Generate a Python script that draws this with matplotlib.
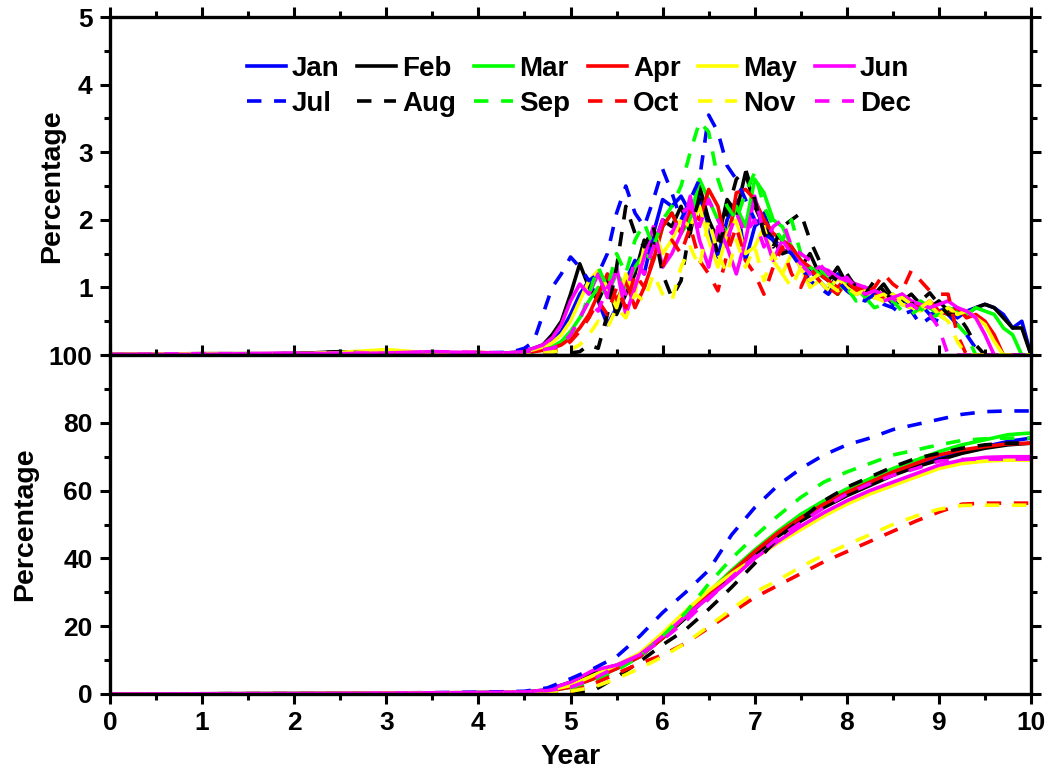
import numpy as np
import matplotlib.pyplot as plt
from matplotlib.ticker import MultipleLocator

plt.rcParams['font.family'] = ['Liberation Sans', 'DejaVu Sans']
plt.rcParams['font.weight'] = 'bold'
plt.rcParams['font.size'] = 19

months = ['Jan', 'Feb', 'Mar', 'Apr', 'May', 'Jun',
          'Jul', 'Aug', 'Sep', 'Oct', 'Nov', 'Dec']
colors = ['#0000ff', '#000000', '#00ff00', '#ff0000', '#ffff00', '#ff00ff'] * 2
styles = ['-'] * 6 + ['--'] * 6

# monthly share (%), years 0..4 coarse then 4.3..10.0 every 0.1
yr_top = np.r_[0, 1, 2, 2.5, 3, 3.5, 4, np.arange(43, 101) / 10]

jan_pct = [0.01, 0.01, 0.02, 0.02, 0.03, 0.02, 0.03,
           0.02, 0.03, 0.05, 0.08, 0.12, 0.2, 0.35, 0.6, 0.9, 1.1,
           0.8, 0.45, 0.7, 1.1, 1.4, 1.2, 1.8, 2.3, 2.2, 2.35,
           2.1, 2.4, 1.8, 1.45, 2.0, 2.3, 1.4, 1.9, 2.1, 1.7,
           1.5, 1.6, 1.3, 1.25, 1.1, 0.95, 1.2, 1.0, 0.9,
           0.95, 0.85, 0.9, 0.75, 0.8, 0.7, 0.75, 0.6, 0.65, 0.7,
           0.55, 0.65, 0.7, 0.75, 0.7, 0.6, 0.4, 0.5, 0.0]
feb_pct = [0.01, 0.02, 0.02, 0.05, 0.02, 0.03, 0.02,
           0.03, 0.04, 0.06, 0.1, 0.15, 0.3, 0.5, 0.9, 1.35, 1.0,
           0.8, 1.1, 0.6, 0.9, 1.2, 1.7, 1.6, 2.0, 1.9, 2.2,
           1.8, 2.5, 2.0, 1.7, 2.3, 2.1, 2.7, 2.2, 1.9, 1.7,
           1.5, 1.55, 1.3, 1.5, 1.2, 1.1, 1.3, 1.05, 0.95,
           1.0, 0.9, 1.05, 0.85, 0.8, 0.9, 0.75, 0.7, 0.8, 0.65,
           0.7, 0.6, 0.7, 0.75, 0.7, 0.55, 0.4, 0.4, 0.0]
mar_pct = [0.01, 0.01, 0.02, 0.03, 0.04, 0.02, 0.02,
           0.02, 0.02, 0.03, 0.05, 0.08, 0.12, 0.2, 0.35, 0.55, 0.8,
           1.0, 0.9, 1.2, 1.0, 1.3, 1.5, 1.4, 1.9, 2.1, 1.8,
           2.0, 2.6, 2.3, 2.0, 1.8, 2.2, 1.9, 2.6, 2.4, 2.0,
           1.9, 1.6, 1.4, 1.2, 1.3, 1.1, 0.9, 1.1, 1.0,
           0.85, 0.95, 0.8, 0.9, 0.75, 0.7, 0.8, 0.7, 0.6, 0.7,
           0.65, 0.6, 0.7, 0.65, 0.6, 0.4, 0.3, 0.0, 0.0]
apr_pct = [0.01, 0.01, 0.02, 0.02, 0.03, 0.03, 0.04,
           0.02, 0.03, 0.04, 0.05, 0.07, 0.1, 0.15, 0.25, 0.4, 0.6,
           0.9, 1.2, 0.8, 1.1, 0.7, 1.0, 1.4, 1.9, 2.1, 1.8,
           2.15, 2.0, 2.45, 2.2, 1.6, 2.4, 2.45, 2.3, 2.0, 1.8,
           1.7, 1.6, 1.4, 1.3, 1.2, 1.1, 1.0, 1.15, 1.0,
           0.95, 0.9, 0.85, 0.8, 0.9, 0.75, 0.7, 0.8, 0.65, 0.6,
           0.7, 0.55, 0.6, 0.5, 0.3, 0.0, 0.0, 0.0, 0.0]
may_pct = [0.01, 0.02, 0.02, 0.04, 0.08, 0.03, 0.02,
           0.02, 0.03, 0.05, 0.08, 0.12, 0.18, 0.3, 0.5, 0.8, 1.1,
           1.25, 1.0, 0.7, 1.2, 0.9, 1.6, 1.85, 1.5, 1.7, 2.0,
           1.9, 2.2, 1.7, 1.3, 1.8, 2.0, 1.5, 1.6, 1.9, 1.4,
           1.2, 1.5, 1.3, 1.0, 1.1, 0.95, 1.15, 1.0, 0.9,
           0.95, 0.85, 0.8, 0.9, 0.75, 0.7, 0.65, 0.75, 0.6, 0.7,
           0.6, 0.65, 0.55, 0.45, 0.2, 0.0, 0.0, 0.0, 0.0]
jun_pct = [0.01, 0.01, 0.03, 0.02, 0.03, 0.05, 0.03,
           0.03, 0.04, 0.06, 0.1, 0.15, 0.25, 0.45, 0.8, 1.05, 0.9,
           1.2, 0.85, 1.3, 0.6, 1.0, 1.45, 1.9, 1.3, 1.5, 1.8,
           2.35, 1.7, 1.3, 1.9, 1.6, 1.2, 1.7, 2.35, 1.8, 1.4,
           1.7, 1.5, 1.35, 1.2, 1.3, 1.25, 1.15, 1.1, 1.05,
           1.0, 0.95, 0.9, 0.85, 0.9, 0.8, 0.75, 0.7, 0.75, 0.8,
           0.7, 0.65, 0.55, 0.3, 0.0, 0.0, 0.0, 0.0, 0.0]
jul_pct = [0.01, 0.01, 0.02, 0.02, 0.03, 0.02, 0.03,
           0.04, 0.06, 0.1, 0.2, 0.6, 1.0, 1.2, 1.45, 1.3, 1.1,
           1.2, 1.5, 2.1, 2.5, 2.1, 1.9, 2.3, 2.75, 2.4, 2.0,
           2.3, 2.6, 3.55, 3.3, 2.8, 2.6, 2.3, 2.0, 1.8, 1.7,
           1.6, 1.5, 1.3, 1.1, 1.0, 0.9, 1.1, 0.95, 0.85,
           0.8, 0.9, 0.75, 0.7, 0.6, 0.65, 0.45, 0.55, 0.5, 0.6,
           0.45, 0.3, 0.1, 0.0, 0.0, 0.0, 0.0, 0.0, 0.0]
aug_pct = [0.0, 0.01, 0.02, 0.05, 0.02, 0.02, 0.02,
           0.0, 0.02, 0.03, 0.03, 0.05, 0.05, 0.04, 0.03, 0.05, 0.15,
           0.1, 0.6, 1.3, 2.2, 1.8, 1.6, 1.9, 1.2, 0.85, 1.1,
           1.9, 2.3, 2.0, 1.5, 2.1, 2.6, 2.75, 2.3, 1.8, 1.6,
           1.9, 2.0, 2.1, 1.7, 1.4, 1.2, 1.1, 1.2, 1.0,
           0.9, 1.1, 0.95, 0.8, 0.85, 0.75, 0.8, 0.92, 0.75, 0.6,
           0.6, 0.4, 0.15, 0.0, 0.0, 0.0, 0.0, 0.0, 0.0]
sep_pct = [0.01, 0.01, 0.02, 0.02, 0.04, 0.03, 0.02,
           0.02, 0.03, 0.04, 0.05, 0.06, 0.08, 0.15, 0.3, 0.5, 0.9,
           1.3, 1.0, 1.5, 1.2, 1.7, 1.95, 1.6, 2.0, 2.2, 2.5,
           3.0, 3.45, 3.3, 2.6, 2.2, 2.0, 2.4, 2.7, 2.2, 1.9,
           1.7, 2.0, 1.5, 1.3, 1.2, 1.1, 0.9, 1.0, 0.8,
           0.85, 0.7, 0.75, 0.8, 0.65, 0.6, 0.7, 0.55, 0.6, 0.5,
           0.45, 0.3, 0.0, 0.0, 0.0, 0.0, 0.0, 0.0, 0.0]
oct_pct = [0.01, 0.01, 0.02, 0.02, 0.03, 0.02, 0.03,
           0.02, 0.03, 0.04, 0.05, 0.05, 0.06, 0.1, 0.2, 0.35, 0.55,
           0.8, 0.6, 1.0, 0.7, 1.2, 1.0, 1.45, 1.3, 1.7, 1.5,
           1.9, 1.4, 1.2, 0.95, 1.5, 1.9, 1.4, 1.2, 0.9, 1.3,
           1.6, 1.2, 1.0, 1.3, 1.1, 1.0, 0.9, 1.1, 0.95,
           0.9, 1.0, 1.2, 1.05, 0.95, 1.25, 1.1, 0.95, 0.9, 0.9,
           0.3, 0.0, 0.0, 0.0, 0.0, 0.0, 0.0, 0.0, 0.0]
nov_pct = [0.01, 0.01, 0.02, 0.03, 0.06, 0.03, 0.02,
           0.02, 0.03, 0.03, 0.04, 0.05, 0.05, 0.06, 0.08, 0.15, 0.3,
           0.5, 0.4, 0.7, 0.55, 0.9, 0.8, 1.2, 0.9, 0.8, 1.3,
           1.6, 1.3, 2.0, 1.5, 1.2, 1.7, 1.3, 1.6, 1.1, 1.5,
           1.2, 1.0, 1.3, 1.1, 1.2, 1.05, 0.95, 1.0, 0.9,
           0.95, 0.85, 0.9, 0.8, 0.85, 0.75, 0.7, 0.8, 0.6, 0.5,
           0.2, 0.0, 0.0, 0.0, 0.0, 0.0, 0.0, 0.0, 0.0]
dec_pct = [0.01, 0.02, 0.02, 0.03, 0.03, 0.05, 0.04,
           0.03, 0.04, 0.05, 0.06, 0.08, 0.1, 0.15, 0.3, 0.55, 0.8,
           0.65, 1.0, 1.2, 0.9, 1.4, 1.2, 1.6, 2.0, 1.8, 2.1,
           2.2, 1.9, 2.3, 2.0, 1.7, 2.1, 1.8, 2.0, 1.6, 1.9,
           2.0, 1.6, 1.5, 1.4, 1.35, 1.2, 1.1, 1.15, 1.0,
           0.9, 0.95, 0.8, 0.85, 0.7, 0.75, 0.65, 0.6, 0.4, 0.0,
           0.0, 0.0, 0.0, 0.0, 0.0, 0.0, 0.0, 0.0, 0.0]

# cumulative share (%), years 0..4 coarse then 4.5..10.0 every 0.25
yr_cum = np.r_[0, 1, 2, 3, 4, np.arange(18, 41) / 4]

jan_cum = [0, 0.05, 0.1, 0.2, 0.4, 0.6, 1.0, 2.5, 5.0, 7.5, 11, 16.5, 22.5, 29,
           35.5, 41.5, 47, 51.5, 55.5, 59, 62, 65, 67.5, 69.5, 71.5, 73, 74.5, 75.5]
feb_cum = [0, 0.05, 0.1, 0.2, 0.4, 0.6, 1.2, 3.5, 6.5, 8.5, 11.5, 16.5, 22.5, 29,
           35, 41, 46.5, 51, 55, 58.5, 61.5, 64.5, 67, 69, 71, 72.5, 73.5, 74]
mar_cum = [0, 0.05, 0.1, 0.2, 0.3, 0.5, 0.8, 2.0, 4.5, 7.5, 11, 16.5, 23, 30,
           36.5, 42.5, 48, 53, 57, 60.5, 63.5, 66.5, 69, 71.5, 73.5, 75, 76.5, 77]
apr_cum = [0, 0.05, 0.1, 0.2, 0.3, 0.5, 0.8, 2.0, 4.5, 7.5, 11, 16.5, 23, 29.5,
           36, 42, 47.5, 52, 56, 59.5, 62.5, 65.5, 68, 70.5, 72, 73, 73.8, 74]
may_cum = [0, 0.05, 0.1, 0.3, 0.4, 0.6, 1.0, 2.5, 5.5, 8.5, 12, 18, 24.5, 30.5,
           35.5, 40, 44.5, 48.5, 52.5, 56, 59, 61.5, 64, 66.5, 68, 68.7, 69, 69]
jun_cum = [0, 0.05, 0.1, 0.3, 0.4, 0.6, 1.2, 3.5, 7.0, 8.5, 11.5, 17, 23, 28.5,
           34, 40, 45, 49.5, 53.5, 57, 60, 62.5, 65, 67.5, 69, 69.8, 70, 70]
jul_cum = [0, 0.05, 0.1, 0.3, 0.5, 0.8, 1.8, 4.5, 7.5, 11, 17, 24, 30, 36.5,
           47, 55, 61.5, 66.5, 70.5, 73.5, 75.5, 78, 79.5, 81, 82.5, 83.3, 83.5, 83.5]
aug_cum = [0, 0, 0.05, 0.1, 0.2, 0.3, 0.4, 0.6, 1.0, 5.0, 9.5, 14.5, 19, 25,
           31.5, 38.5, 46, 51.5, 57, 61, 64, 67, 69.5, 71, 72.5, 73.5, 74, 74]
sep_cum = [0, 0.05, 0.1, 0.2, 0.3, 0.4, 0.6, 1.5, 3.5, 7.0, 11, 17, 24, 32.5,
           40, 46.5, 52.5, 58, 62.5, 65.5, 68, 70.5, 72, 73.5, 74.8, 75.3, 75.5, 75.5]
oct_cum = [0, 0.05, 0.1, 0.2, 0.3, 0.4, 0.5, 0.6, 3.0, 6.0, 9.0, 11.5, 15, 19.5,
           24, 28.5, 32, 35.5, 39, 42, 45, 48, 51, 53.7, 56, 56.3, 56.3, 56.3]
nov_cum = [0, 0.05, 0.1, 0.2, 0.3, 0.4, 0.5, 0.8, 2.0, 4.5, 7.5, 11, 15, 20,
           25, 30, 33.5, 37.5, 41, 44, 47, 50, 52.5, 54.5, 55.6, 55.7, 55.7, 55.7]
dec_cum = [0, 0.05, 0.1, 0.2, 0.4, 0.6, 1.0, 2.0, 4.5, 8.0, 11.5, 16, 21.5, 28,
           34.5, 40.5, 46, 50.5, 55, 59, 62, 64.5, 66.5, 68.7, 69.2, 69.3, 69.3, 69.3]

top_series = [jan_pct, feb_pct, mar_pct, apr_pct, may_pct, jun_pct,
              jul_pct, aug_pct, sep_pct, oct_pct, nov_pct, dec_pct]
cum_series = [jan_cum, feb_cum, mar_cum, apr_cum, may_cum, jun_cum,
              jul_cum, aug_cum, sep_cum, oct_cum, nov_cum, dec_cum]

fig = plt.figure(figsize=(10.51, 7.74), dpi=100)
ax1 = fig.add_axes([0.1047, 0.5413, 0.8763, 0.4367])
ax2 = fig.add_axes([0.1047, 0.1034, 0.8763, 0.4379])

lw = 2.6
lines = []
for i in range(12):
    ls = '-' if styles[i] == '-' else (0, (4, 3.5))
    l, = ax1.plot(yr_top, top_series[i], color=colors[i], lw=lw, ls=ls, label=months[i])
    ax2.plot(yr_cum, cum_series[i], color=colors[i], lw=lw, ls=ls)
    lines.append(l)

for ax in (ax1, ax2):
    ax.set_xlim(0, 10)
    ax.xaxis.set_major_locator(MultipleLocator(1))
    ax.xaxis.set_minor_locator(MultipleLocator(0.5))
    for s in ax.spines.values():
        s.set_linewidth(2.4)
    ax.tick_params(which='both', direction='out', top=True, right=True, width=2.2)
    ax.tick_params(which='major', length=7.5, pad=5, labelsize=19)
    ax.tick_params(which='minor', length=4.5)

ax1.set_ylim(0, 5)
ax1.set_yticks([1, 2, 3, 4, 5])
ax1.yaxis.set_minor_locator(MultipleLocator(0.5))
ax1.tick_params(labelbottom=False)
ax1.set_ylabel('Percentage', fontsize=20.5, fontweight='bold')
ax1.yaxis.set_label_coords(-0.049, 0.5)

ax2.set_ylim(0, 100)
ax2.yaxis.set_major_locator(MultipleLocator(20))
ax2.yaxis.set_minor_locator(MultipleLocator(10))
ax2.set_ylabel('Percentage', fontsize=20.5, fontweight='bold')
ax2.yaxis.set_label_coords(-0.078, 0.5)
ax2.set_xlabel('Year', fontsize=20.5, fontweight='bold')
ax2.xaxis.set_label_coords(0.5, -0.148)

# fill the legend column by column so each row reads Jan..Jun / Jul..Dec
order = [0, 6, 1, 7, 2, 8, 3, 9, 4, 10, 5, 11]
ax1.legend([lines[k] for k in order], [months[k] for k in order],
           ncol=6, loc='upper center', bbox_to_anchor=(0.509, 0.917),
           frameon=False, fontsize=20, handlelength=1.4, handletextpad=0.23,
           columnspacing=0.63, labelspacing=0.32, borderaxespad=0)

fig.savefig('out.png', dpi=100)
